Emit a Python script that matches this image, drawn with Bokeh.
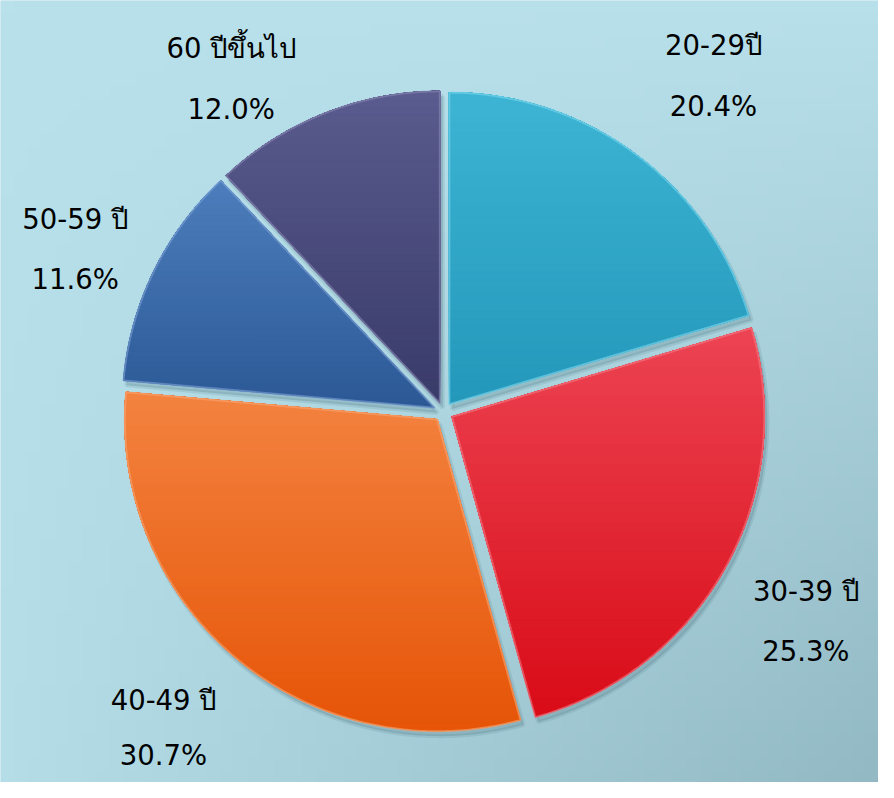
import numpy as np
from bokeh.plotting import figure
from bokeh.models import Range1d
from bokeh.core.properties import value
from bokeh.embed import file_html
from bokeh.resources import INLINE

# ---- data ----
categories = ["20-29ปี", "30-39 ปี", "40-49 ปี", "50-59 ปี", "60 ปีขึ้นไป"]
shares = [20.4, 25.3, 30.7, 11.6, 12.0]
pct_labels = ["20.4%", "25.3%", "30.7%", "11.6%", "12.0%"]

# ---- styles / layout ----
top_colors = ["#3db4d4", "#ec4352", "#f3823f", "#4d7dbc", "#5a5b8e"]
bottom_colors = ["#2498ba", "#d90c18", "#e65508", "#2c5996", "#393b69"]
edge_colors = ["#7fd8ef", "#f27b85", "#f7a675", "#7ea3d6", "#8a8bb5"]
label_x = [726, 820, 166, 76, 235]
label_base_y = [45, 603, 714, 223, 48]
pct_base_y = [108, 664, 770, 284, 111]

W, H = 878, 782
CX, CY = 451, 420      # reference px
R = 318
EXPLODE = 10


def sy(y):
    return 798 - y


p = figure(width=W, height=H, output_backend="svg", toolbar_location=None,
           x_range=Range1d(0, 894), y_range=Range1d(0, 798),
           min_border=0, outline_line_color=None,
           background_fill_color="#b8e0ea", border_fill_color="#b8e0ea")
p.axis.visible = False
p.grid.visible = False

# background gradient
n = 64
img = np.zeros((n, n), dtype=np.uint32)
view = img.view(dtype=np.uint8).reshape((n, n, 4))
tl = np.array([185, 225, 235.])
tr = np.array([184, 224, 234.])
bl = np.array([180, 221, 231.])
br = np.array([146, 185, 196.])
for j in range(n):          # j=0 is bottom
    v = j / (n - 1)
    for i in range(n):
        u = i / (n - 1)
        top = tl * (1 - u) + tr * u
        bot = bl * (1 - u) + br * u
        c = bot * (1 - v) + top * v
        view[j, i, :3] = c.astype(np.uint8)
        view[j, i, 3] = 255
p.image_rgba(image=[img], x=0, y=0, dw=894, dh=798)


def hex2rgb(h):
    return np.array([int(h[i:i + 2], 16) for i in (1, 3, 5)], dtype=float)


def rgb2hex(c):
    return "#%02x%02x%02x" % tuple(int(round(v)) for v in c)


def clip_above(poly, t):
    out = []
    m = len(poly)
    for k in range(m):
        a = poly[k]
        b = poly[(k + 1) % m]
        ain = a[1] >= t
        bin_ = b[1] >= t
        if ain:
            out.append(a)
        if ain != bin_:
            f = (t - a[1]) / (b[1] - a[1])
            out.append((a[0] + f * (b[0] - a[0]), t))
    return out


total = sum(shares)
cum = np.cumsum([0] + shares) / total
xs_all, ys_all, col_all = [], [], []
sh_x, sh_y = [], []
edge_x, edge_y = [], []
for k, s in enumerate(shares):
    a0 = np.pi / 2 - 2 * np.pi * cum[k]
    a1 = np.pi / 2 - 2 * np.pi * cum[k + 1]
    mid = (a0 + a1) / 2
    x0 = CX + EXPLODE * np.cos(mid)
    y0 = sy(CY) + EXPLODE * np.sin(mid)
    angs = np.linspace(a0, a1, 160)
    poly = [(x0, y0)] + [(x0 + R * np.cos(a), y0 + R * np.sin(a)) for a in angs]
    ys_ = [q[1] for q in poly]
    ymin, ymax = min(ys_), max(ys_)
    ctop, cbot = hex2rgb(top_colors[k]), hex2rgb(bottom_colors[k])
    N = 40
    for i in range(N):
        t = ymin + (ymax - ymin) * i / N
        cp = poly if i == 0 else clip_above(poly, t)
        if len(cp) < 3:
            continue
        f = i / (N - 1)
        xs_all.append([q[0] for q in cp])
        ys_all.append([q[1] for q in cp])
        col_all.append(rgb2hex(cbot * (1 - f) + ctop * f))
    sh_x.append([q[0] + 3 for q in poly])
    sh_y.append([q[1] - 5 for q in poly])
    edge_x.append([q[0] for q in poly])
    edge_y.append([q[1] for q in poly])

# soft shadow
p.patches(sh_x, sh_y, fill_color="#4d7280", fill_alpha=0.25, line_color="#4d7280",
          line_alpha=0.15, line_width=4)
p.patches(xs_all, ys_all, fill_color=col_all, line_color=col_all, line_width=0.6)
p.patches(edge_x, edge_y, fill_color=None, line_color=edge_colors, line_alpha=0.6,
          line_width=2)

font = value("DejaVu Sans")
p.text(x=label_x, y=[sy(v) for v in label_base_y], text=categories,
       text_font=font, text_font_size="27.5px", text_align="center",
       text_baseline="alphabetic", text_color="#000000")
p.text(x=label_x, y=[sy(v) for v in pct_base_y], text=pct_labels,
       text_font=font, text_font_size="27.5px", text_align="center",
       text_baseline="alphabetic", text_color="#000000")

open("out.html", "w").write(file_html(p, INLINE))
